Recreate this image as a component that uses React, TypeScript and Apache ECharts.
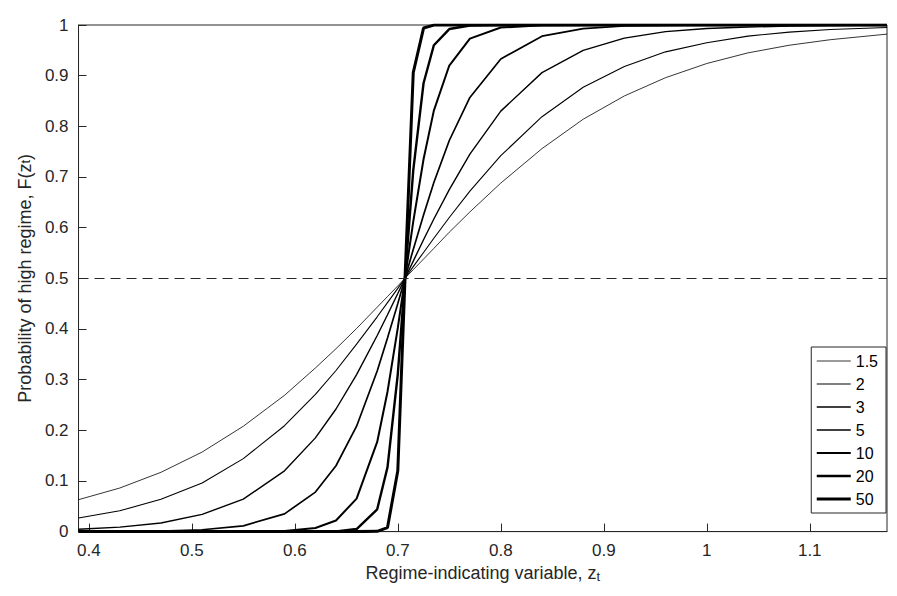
import { useEffect, useRef } from 'react'
import * as echarts from 'echarts'

const xs = [0.39, 0.43, 0.47, 0.51, 0.55, 0.59, 0.62, 0.64, 0.66, 0.68, 0.69, 0.70, 0.707, 0.715, 0.725, 0.735, 0.75, 0.77, 0.80, 0.84, 0.88, 0.92, 0.96, 1.00, 1.04, 1.08, 1.12, 1.175]

const gammas = ['1.5', '2', '3', '5', '10', '20', '50']

const g15 = [0.063, 0.086, 0.117, 0.157, 0.208, 0.269, 0.323, 0.361, 0.401, 0.443, 0.464, 0.485, 0.5, 0.517, 0.538, 0.559, 0.591, 0.631, 0.688, 0.756, 0.814, 0.86, 0.896, 0.924, 0.945, 0.96, 0.971, 0.982]
const g2 = [0.027, 0.041, 0.064, 0.096, 0.144, 0.209, 0.271, 0.318, 0.37, 0.424, 0.452, 0.48, 0.5, 0.523, 0.551, 0.579, 0.62, 0.672, 0.742, 0.819, 0.877, 0.918, 0.947, 0.965, 0.978, 0.986, 0.991, 0.995]
const g3 = [0.0045, 0.0088, 0.017, 0.034, 0.064, 0.12, 0.185, 0.242, 0.31, 0.387, 0.428, 0.47, 0.5, 0.534, 0.576, 0.617, 0.675, 0.745, 0.83, 0.906, 0.95, 0.974, 0.987, 0.993, 0.996, 0.998, 0.999, 1]
const g5 = [0.0001, 0.0004, 0.0012, 0.0037, 0.0114, 0.035, 0.078, 0.13, 0.208, 0.317, 0.382, 0.45, 0.5, 0.557, 0.625, 0.689, 0.772, 0.857, 0.933, 0.978, 0.993, 0.998, 0.9994, 1, 1, 1, 1, 1]
const g10 = [0, 0, 0, 0, 0.0001, 0.0013, 0.007, 0.022, 0.065, 0.177, 0.276, 0.402, 0.5, 0.612, 0.735, 0.831, 0.92, 0.973, 0.995, 0.9995, 1, 1, 1, 1, 1, 1, 1, 1]
const g20 = [0, 0, 0, 0, 0, 0, 0, 0.0005, 0.005, 0.044, 0.127, 0.311, 0.5, 0.713, 0.885, 0.96, 0.992, 0.999, 1, 1, 1, 1, 1, 1, 1, 1, 1, 1]
const g50 = [0, 0, 0, 0, 0, 0, 0, 0, 0, 0.0005, 0.008, 0.12, 0.5, 0.906, 0.994, 0.9998, 1, 1, 1, 1, 1, 1, 1, 1, 1, 1, 1, 1]

const values = [g15, g2, g3, g5, g10, g20, g50]
const widths = [0.8, 1.1, 1.4, 1.7, 2.0, 2.4, 3.0]
const xTicks = [0.4, 0.5, 0.6, 0.7, 0.8, 0.9, 1, 1.1]

const font = 'Liberation Sans, Helvetica, Arial, sans-serif'

export default function App() {
  const ref = useRef<HTMLDivElement>(null)

  useEffect(() => {
    const chart = echarts.init(ref.current, null, { renderer: 'svg' })
    const axisLine = { show: true, lineStyle: { color: '#262626', width: 1 } }
    chart.setOption({
      animation: false,
      textStyle: { fontFamily: font },
      grid: { left: 62, right: 2, top: 17, bottom: 40, show: true, borderColor: '#262626', borderWidth: 1 },
      legend: {
        orient: 'vertical',
        right: 3,
        top: 339,
        itemWidth: 34,
        itemHeight: 14,
        itemGap: 7,
        padding: [6, 8, 6, 4],
        backgroundColor: '#fff',
        borderColor: '#262626',
        borderWidth: 1,
        borderRadius: 0,
        itemStyle: { opacity: 0 },
        textStyle: { fontSize: 16, color: '#000', fontFamily: font },
        data: gammas.map((g, i) => ({ name: g, lineStyle: { width: widths[i], color: '#000' } })),
      },
      xAxis: {
        type: 'value',
        min: 0.39,
        max: 1.175,
        axisLine,
        axisTick: { inside: true, length: 8, customValues: xTicks, lineStyle: { color: '#262626' } },
        axisLabel: { customValues: xTicks, fontSize: 17, color: '#262626', margin: 10 },
        splitLine: { show: false },
        name: '{a|Regime-indicating variable, z}{s|t}',
        nameLocation: 'middle',
        nameGap: 28,
        nameTextStyle: { rich: { a: { fontSize: 18, color: '#262626' }, s: { fontSize: 13, color: '#262626', verticalAlign: 'bottom', padding: [8, 0, 0, 0] } } },
      },
      yAxis: {
        type: 'value',
        min: 0,
        max: 1,
        interval: 0.1,
        axisLine,
        axisTick: { inside: true, length: 8, lineStyle: { color: '#262626' } },
        axisLabel: { fontSize: 17, color: '#262626', margin: 10 },
        splitLine: { show: false },
        name: '{a|Probability of high regime, F(z}{s|t}{a|)}',
        nameLocation: 'middle',
        nameGap: 41,
        nameTextStyle: { rich: { a: { fontSize: 18, color: '#262626' }, s: { fontSize: 13, color: '#262626' } } },
      },
      series: values.map((v, i) => ({
        name: gammas[i],
        type: 'line',
        symbol: 'none',
        data: xs.map((x, j) => [x, v[j]]),
        lineStyle: { color: '#000', width: widths[i] },
        itemStyle: { color: '#000' },
        markLine: i === 0 ? {
          silent: true,
          symbol: 'none',
          label: { show: false },
          lineStyle: { type: [10, 6], color: '#262626', width: 1 },
          data: [{ yAxis: 0.5 }],
        } : undefined,
      })),
    })
    return () => chart.dispose()
  }, [])

  return <div ref={ref} style={{ width: 881, height: 580 }} />
}
